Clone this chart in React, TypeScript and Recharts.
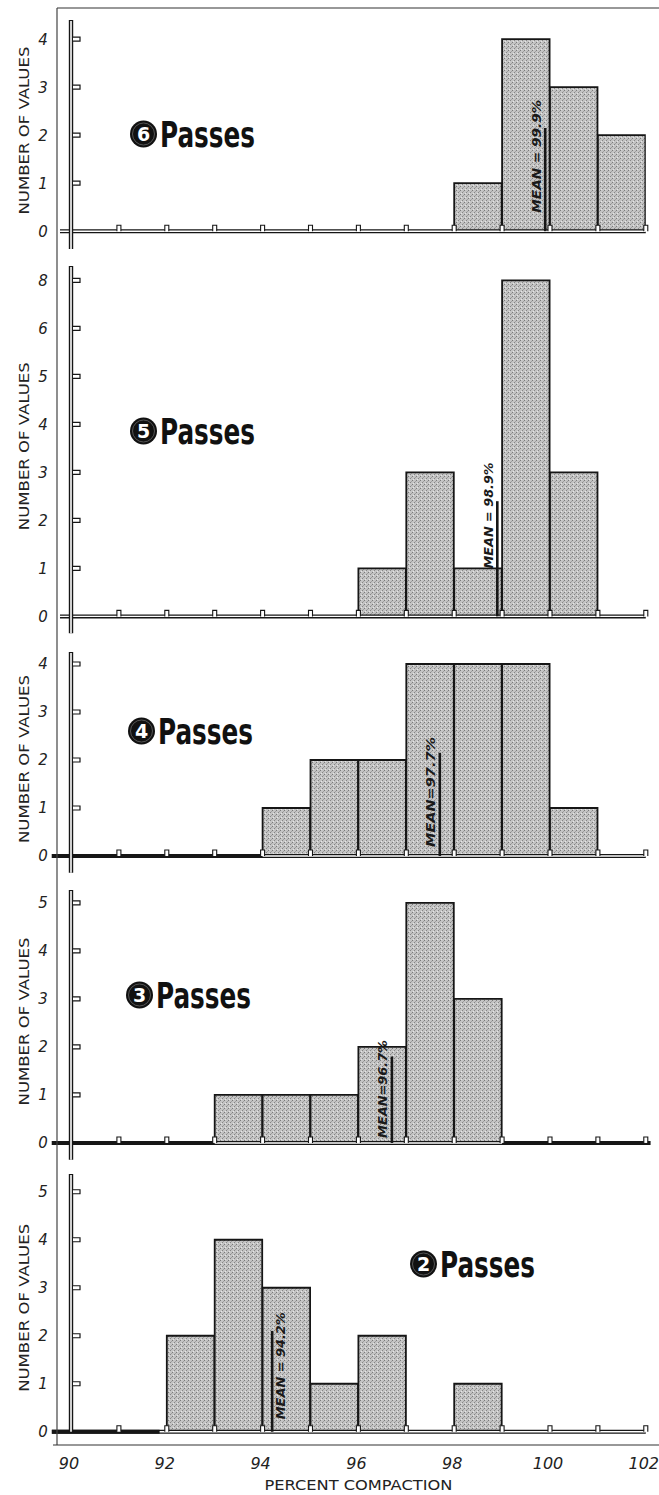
import { Bar, ComposedChart, ReferenceLine, XAxis, YAxis } from "recharts";

// histogram classes, centre of each 1% class
const BIN_MIDS = [90.5, 91.5, 92.5, 93.5, 94.5, 95.5, 96.5, 97.5, 98.5, 99.5, 100.5, 101.5];
const X_TICKS = [90, 91, 92, 93, 94, 95, 96, 97, 98, 99, 100, 101, 102];
const X_LABELS = ["90", "", "92", "", "94", "", "96", "", "98", "", "100", "", "102"];

const PASSES = [6, 5, 4, 3, 2];

const COUNTS_6 = [0, 0, 0, 0, 0, 0, 0, 0, 1, 4, 3, 2];
const COUNTS_5 = [0, 0, 0, 0, 0, 0, 1, 3, 1, 7, 3, 0];
const COUNTS_4 = [0, 0, 0, 0, 1, 2, 2, 4, 4, 4, 1, 0];
const COUNTS_3 = [0, 0, 0, 1, 1, 1, 2, 5, 3, 0, 0, 0];
const COUNTS_2 = [0, 0, 2, 4, 3, 1, 2, 0, 1, 0, 0, 0];

const MEANS = [99.9, 98.9, 97.7, 96.7, 94.2];
const MEAN_LABELS = ["MEAN = 99.9%", "MEAN = 98.9%", "MEAN=97.7%", "MEAN=96.7%", "MEAN = 94.2%"];
const MEAN_LINE_TOPS = [2.15, 2.4, 2.15, 1.8, 2.1];

const Y_TICKS_6 = [0, 1, 2, 3, 4];
const Y_TICKS_5 = [0, 1, 2, 3, 4, 5, 6, 7];
const Y_TICKS_4 = [0, 1, 2, 3, 4];
const Y_TICKS_3 = [0, 1, 2, 3, 4, 5];
const Y_TICKS_2 = [0, 1, 2, 3, 4, 5];
const Y_LABELS_6 = ["0", "1", "2", "3", "4"];
const Y_LABELS_5 = ["0", "1", "2", "3", "4", "5", "6", "8"];
const Y_LABELS_4 = ["0", "1", "2", "3", "4"];
const Y_LABELS_3 = ["0", "1", "2", "3", "4", "5"];
const Y_LABELS_2 = ["0", "1", "2", "3", "4", "5"];

const ALL_COUNTS = [COUNTS_6, COUNTS_5, COUNTS_4, COUNTS_3, COUNTS_2];
const ALL_Y_TICKS = [Y_TICKS_6, Y_TICKS_5, Y_TICKS_4, Y_TICKS_3, Y_TICKS_2];
const ALL_Y_LABELS = [Y_LABELS_6, Y_LABELS_5, Y_LABELS_4, Y_LABELS_3, Y_LABELS_2];

// page layout (pixels) for each panel, top to bottom
const LAYOUT = [
  { baseline: 231, yMax: 4.4, axisBelow: -0.37, axisLeft: 89.77, thick: [], titleX: 130, titleY: 134, textDx: -9, textRise: 75, textLen: 113 },
  { baseline: 616, yMax: 7.3, axisBelow: -0.35, axisLeft: 89.77, thick: [], titleX: 130, titleY: 431, textDx: -9, textRise: 101, textLen: 106 },
  { baseline: 856, yMax: 4.25, axisBelow: -0.35, axisLeft: 89.6, thick: [[89.6, 94]], titleX: 128, titleY: 731, textDx: -9, textRise: 64, textLen: 110 },
  { baseline: 1143, yMax: 5.27, axisBelow: -0.35, axisLeft: 89.6, thick: [[89.6, 93], [99, 102.1]], titleX: 126, titleY: 995, textDx: -9, textRise: 54, textLen: 98 },
  { baseline: 1432, yMax: 5.37, axisBelow: 0, axisLeft: 89.6, thick: [[89.6, 91.85]], titleX: 410, titleY: 1264, textDx: 8, textRise: 66, textLen: 107 },
];

const UNIT = 48;
const WIDTH = 659;
const PLOT_LEFT = 71;
const PLOT_RIGHT_MARGIN = 13.2;
// a hair under the class width, otherwise recharts shrinks bars to 90%
const BAR_WIDTH = (WIDTH - PLOT_LEFT - PLOT_RIGHT_MARGIN) / BIN_MIDS.length - 0.4;
const TOP_PAD = 10;
const INK = "#161616";

const tickFont = "'DejaVu Sans', sans-serif";

function YTick(props: any) {
  const { x, y, payload, ticks, labels } = props;
  const v = payload.value;
  const label = labels[ticks.indexOf(v)] ?? String(v);
  return (
    <g>
      <text
        x={x - 28}
        y={y}
        dy="0.36em"
        textAnchor="middle"
        fontStyle="italic"
        fontSize={15}
        fontFamily={tickFont}
        fill="#222"
      >
        {label}
      </text>
      {v !== 0 && (
        <path
          d={`M${x + 2},${y - 2} H${x + 9} V${y + 2} H${x + 2}`}
          fill="#fff"
          stroke={INK}
          strokeWidth={1.2}
        />
      )}
    </g>
  );
}

function XTick(props: any) {
  const { x, y, payload, showLabels } = props;
  const v = payload.value;
  const label = X_LABELS[X_TICKS.indexOf(v)];
  return (
    <g>
      {v !== 90 && (
        <path
          d={`M${x - 2},${y} V${y - 6} H${x + 2} V${y}`}
          fill="#fff"
          stroke={INK}
          strokeWidth={1.1}
        />
      )}
      {showLabels && label && (
        <text
          x={x - 2}
          y={y + 31}
          dy="0.36em"
          textAnchor="middle"
          fontStyle="italic"
          fontSize={16}
          fontFamily={tickFont}
          fill="#222"
        >
          {label}
        </text>
      )}
    </g>
  );
}

function Panel({ index }: { index: number }) {
  const lay = LAYOUT[index];
  const counts = ALL_COUNTS[index];
  const yTicks = ALL_Y_TICKS[index];
  const yLabels = ALL_Y_LABELS[index];
  const isLast = index === LAYOUT.length - 1;
  const axisHeight = isLast ? 63 : 22;
  const plotHeight = lay.yMax * UNIT;
  const height = TOP_PAD + plotHeight + axisHeight;
  const top = lay.baseline - plotHeight - TOP_PAD;
  const patternId = `stipple-${index}`;

  const rows = BIN_MIDS.map((m, i) => ({
    mid: m,
    count: counts[i] > 0 ? counts[i] : null,
  }));

  const meanLabel = (p: any) => {
    const vb = p.viewBox ?? p;
    const base = vb.y + vb.height;
    const cx = vb.x + lay.textDx;
    const cy = base - lay.textRise;
    return (
      <text
        x={cx}
        y={cy}
        dy="0.35em"
        transform={`rotate(-90 ${cx} ${cy})`}
        textAnchor="middle"
        fontStyle="italic"
        fontWeight="bold"
        fontSize={13}
        fontFamily={tickFont}
        fill="#1a1a1a"
        textLength={lay.textLen}
        lengthAdjust="spacingAndGlyphs"
      >
        {MEAN_LABELS[index]}
      </text>
    );
  };

  const yLabel = (p: any) => {
    const vb = p.viewBox ?? p;
    const cx = vb.x + 24;
    const cy = vb.y + vb.height / 2 + 5;
    return (
      <text
        x={cx}
        y={cy}
        dy="0.35em"
        transform={`rotate(-90 ${cx} ${cy})`}
        textAnchor="middle"
        fontSize={14}
        fontFamily={tickFont}
        fill="#222"
        textLength={168}
        lengthAdjust="spacingAndGlyphs"
      >
        NUMBER OF VALUES
      </text>
    );
  };

  const xLabel = (p: any) => {
    const vb = p.viewBox ?? p;
    const cx = vb.x + vb.width / 2;
    return (
      <text
        x={cx}
        y={vb.y + 53}
        dy="0.35em"
        textAnchor="middle"
        fontSize={14}
        fontFamily={tickFont}
        fill="#222"
        textLength={188}
        lengthAdjust="spacingAndGlyphs"
      >
        PERCENT COMPACTION
      </text>
    );
  };

  return (
    <div style={{ position: "absolute", left: 0, top }}>
      <ComposedChart
        width={WIDTH}
        height={height}
        data={rows}
        margin={{ top: TOP_PAD, right: PLOT_RIGHT_MARGIN, left: 0, bottom: 0 }}
        barCategoryGap={0}
        barGap={0}
      >
        <defs>
          <pattern id={patternId} width={4} height={4} patternUnits="userSpaceOnUse">
            <rect width={4} height={4} fill="#c4c4c4" />
            <rect x={0} y={0} width={1} height={1} fill="#7a7a7a" />
            <rect x={2} y={2} width={1} height={1} fill="#858585" />
            <rect x={3} y={1} width={1} height={1} fill="#a0a0a0" />
            <rect x={1} y={3} width={1} height={1} fill="#e6e6e6" />
          </pattern>
        </defs>
        <XAxis
          dataKey="mid"
          type="number"
          domain={[90, 102]}
          allowDataOverflow
          ticks={X_TICKS}
          interval={0}
          height={axisHeight}
          axisLine={false}
          tickLine={false}
          tickSize={0}
          tickMargin={0}
          tick={(p: any) => <XTick {...p} showLabels={isLast} />}
          label={isLast ? xLabel : undefined}
        />
        <YAxis
          type="number"
          domain={[0, lay.yMax]}
          ticks={yTicks}
          interval={0}
          allowDataOverflow
          width={PLOT_LEFT}
          axisLine={false}
          tickLine={false}
          tickSize={0}
          tickMargin={0}
          tick={(p: any) => <YTick {...p} ticks={yTicks} labels={yLabels} />}
          label={yLabel}
        />
        <Bar
          dataKey="count"
          barSize={BAR_WIDTH}
          fill={`url(#${patternId})`}
          stroke={INK}
          strokeWidth={1.8}
          isAnimationActive={false}
        />
        {/* double baseline */}
        <ReferenceLine
          segment={[{ x: lay.axisLeft, y: 0 }, { x: 102, y: 0 }]}
          stroke={INK}
          strokeWidth={4}
          ifOverflow="visible"
        />
        <ReferenceLine
          segment={[{ x: lay.axisLeft, y: 0 }, { x: 102, y: 0 }]}
          stroke="#fff"
          strokeWidth={1.4}
          ifOverflow="visible"
        />
        {lay.thick.map(([a, b], k) => (
          <ReferenceLine
            key={`thick-${k}`}
            segment={[{ x: a, y: 0 }, { x: b, y: 0 }]}
            stroke={INK}
            strokeWidth={4}
            ifOverflow="visible"
          />
        ))}
        {/* double y axis */}
        <ReferenceLine
          segment={[{ x: 90, y: lay.axisBelow }, { x: 90, y: lay.yMax }]}
          stroke={INK}
          strokeWidth={4.4}
          ifOverflow="visible"
        />
        <ReferenceLine
          segment={[{ x: 90, y: lay.axisBelow }, { x: 90, y: lay.yMax - 0.02 }]}
          stroke="#fff"
          strokeWidth={1.6}
          ifOverflow="visible"
        />
        <ReferenceLine
          segment={[{ x: MEANS[index], y: 0 }, { x: MEANS[index], y: MEAN_LINE_TOPS[index] }]}
          stroke={INK}
          strokeWidth={2.6}
          ifOverflow="visible"
          label={meanLabel}
        />
      </ComposedChart>
    </div>
  );
}

function Title({ index }: { index: number }) {
  const lay = LAYOUT[index];
  const cx = lay.titleX + 13.5;
  const cy = lay.titleY;
  return (
    <g>
      <circle cx={cx} cy={cy} r={13.5} fill="#111" />
      <circle cx={cx} cy={cy} r={11} fill="none" stroke="#666" strokeWidth={0.8} />
      <text
        x={cx}
        y={cy}
        dy="0.36em"
        textAnchor="middle"
        fill="#fff"
        fontWeight="bold"
        fontSize={19}
        fontFamily={tickFont}
      >
        {PASSES[index]}
      </text>
      <text
        x={lay.titleX + 30}
        y={cy + 12.5}
        fill="#111"
        fontWeight="bold"
        fontSize={35}
        fontFamily="'DejaVu Sans Condensed', 'DejaVu Sans', sans-serif"
        textLength={95}
        lengthAdjust="spacingAndGlyphs"
      >
        Passes
      </text>
    </g>
  );
}

export default function App() {
  return (
    <div
      style={{
        position: "absolute",
        left: 0,
        top: 0,
        width: WIDTH,
        height: 1495,
        background: "#fff",
        overflow: "hidden",
      }}
    >
      {LAYOUT.map((_, i) => (
        <Panel key={i} index={i} />
      ))}
      <svg
        width={WIDTH}
        height={1495}
        style={{ position: "absolute", left: 0, top: 0, pointerEvents: "none" }}
      >
        <line x1={57} y1={8} x2={659} y2={8} stroke="#333" strokeWidth={1.2} />
        <line x1={57} y1={8} x2={57} y2={1445} stroke="#444" strokeWidth={1.2} />
        <line x1={53} y1={1445} x2={659} y2={1445} stroke="#333" strokeWidth={1.2} />
        {LAYOUT.map((_, i) => (
          <Title key={i} index={i} />
        ))}
      </svg>
    </div>
  );
}
